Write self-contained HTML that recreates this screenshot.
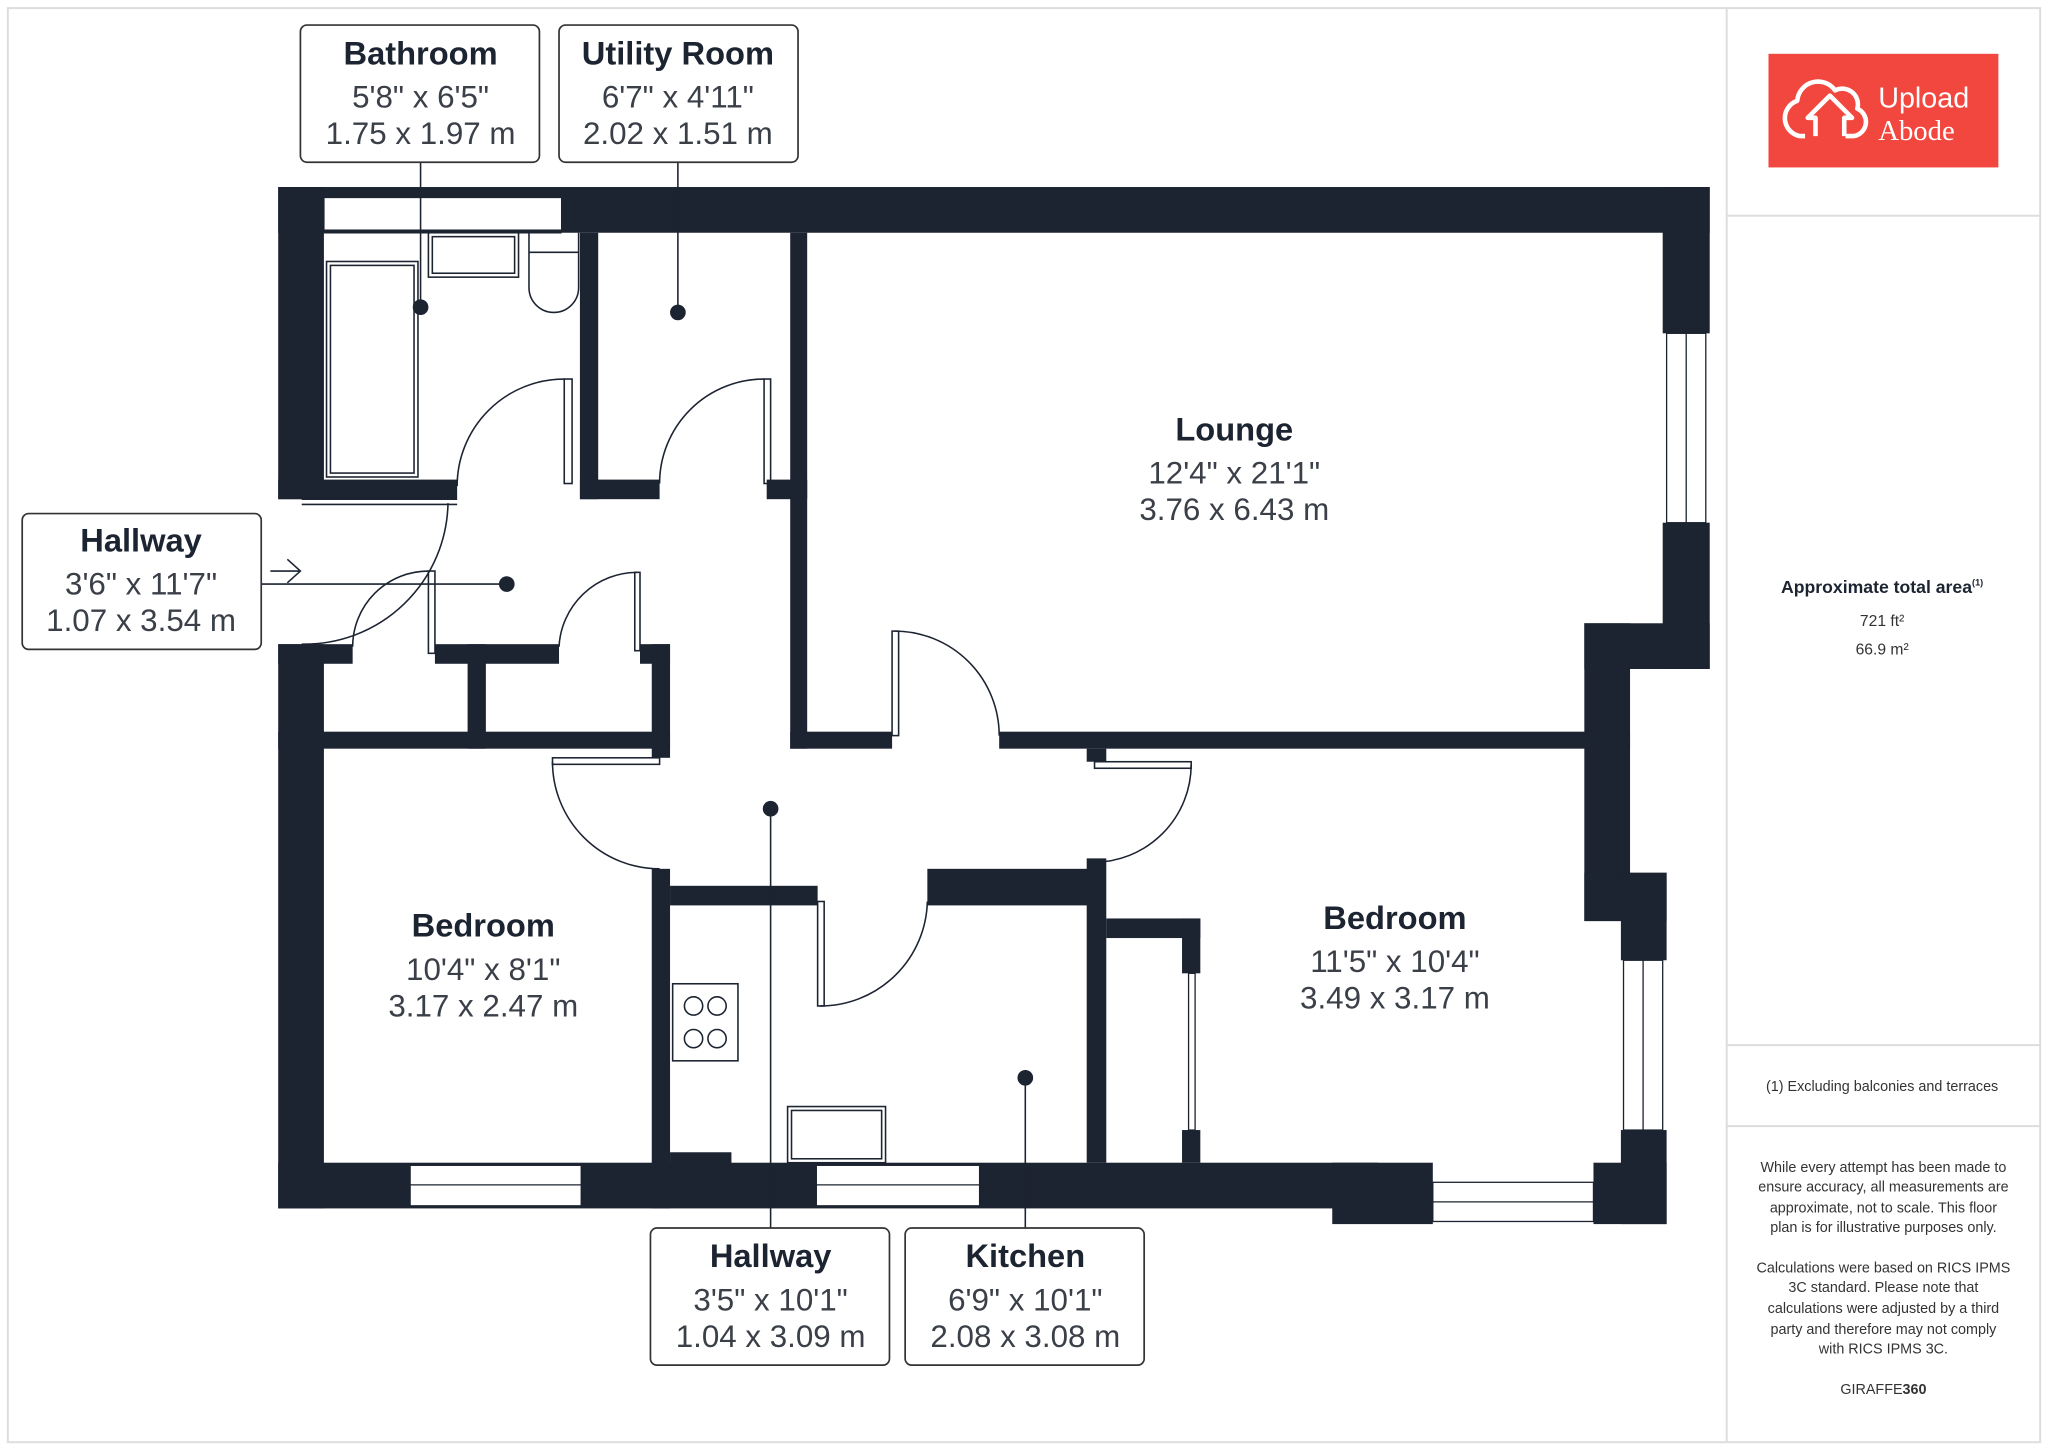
<!DOCTYPE html>
<html><head><meta charset="utf-8"><style>
html,body{margin:0;padding:0;background:#fff}
svg{display:block}
text{font-family:"Liberation Sans",sans-serif;fill:#1c2331}
.n{font-weight:bold;font-size:25px}
.d{font-size:24px;fill:#3a3f48}
.s{font-size:11px;fill:#333}
</style></head><body>
<svg width="2048" height="1449" viewBox="0 0 1568 1109" xmlns="http://www.w3.org/2000/svg">
<rect x="6" y="6" width="1556" height="1098" fill="#fff" stroke="#ddd" stroke-width="1.5"/>
<line x1="1322" y1="6" x2="1322" y2="1104" stroke="#ddd" stroke-width="1.5"/>
<line x1="1322" y1="165" x2="1562" y2="165" stroke="#ddd" stroke-width="1.5"/>
<line x1="1322" y1="800" x2="1562" y2="800" stroke="#ddd" stroke-width="1.5"/>
<line x1="1322" y1="862" x2="1562" y2="862" stroke="#ddd" stroke-width="1.5"/>
<!-- logo -->
<rect x="1354" y="41" width="176" height="87" fill="#f2473f"/>
<path d="M1382 104 h-4 a14 14 0 0 1 -2 -27 a16 16 0 0 1 29 -8 a12 12 0 0 1 17 14 a11 11 0 0 1 -3 21 h-6 M1390 104 v-14 h-6 l17 -17 l17 17 h-6 v14" fill="none" stroke="#fff" stroke-width="3.5" stroke-linejoin="round"/>
<text x="1438" y="82" style="font-size:22px;fill:#fff">Upload</text>
<text x="1438" y="107" style="font-size:22px;fill:#fff;font-family:'Liberation Serif',serif">Abode</text>
<!-- panel text -->
<text x="1441" y="454" text-anchor="middle" style="font-size:13.5px;font-weight:bold">Approximate total area<tspan font-size="7" dy="-6">(1)</tspan></text>
<text x="1441" y="479" text-anchor="middle" class="s" style="font-size:12px">721 ft²</text>
<text x="1441" y="501" text-anchor="middle" class="s" style="font-size:12px">66.9 m²</text>
<text x="1441" y="835" text-anchor="middle" class="s">(1) Excluding balconies and terraces</text>
<g text-anchor="middle" class="s">
<text x="1442" y="897" class="s">While every attempt has been made to</text>
<text x="1442" y="912" class="s">ensure accuracy, all measurements are</text>
<text x="1442" y="928" class="s">approximate, not to scale. This floor</text>
<text x="1442" y="943" class="s">plan is for illustrative purposes only.</text>
<text x="1442" y="974" class="s">Calculations were based on RICS IPMS</text>
<text x="1442" y="989" class="s">3C standard. Please note that</text>
<text x="1442" y="1005" class="s">calculations were adjusted by a third</text>
<text x="1442" y="1021" class="s">party and therefore may not comply</text>
<text x="1442" y="1036" class="s">with RICS IPMS 3C.</text>
<text x="1442" y="1067" class="s">GIRAFFE<tspan font-weight="bold">360</tspan></text>
</g>
<!-- walls -->
<g fill="#1c2331">
<rect x="213" y="143" width="1096" height="35"/>
<rect x="213" y="143" width="35" height="239"/>
<rect x="213" y="367" width="137" height="15"/>
<rect x="444" y="178" width="14" height="204"/>
<rect x="444" y="367" width="61" height="15"/>
<rect x="587" y="367" width="31" height="15"/>
<rect x="605" y="178" width="13" height="395"/>
<rect x="1273" y="143" width="36" height="112"/>
<rect x="1273" y="400" width="36" height="112"/>
<rect x="1213" y="477" width="96" height="35"/>
<rect x="1213" y="477" width="35" height="228"/>
<rect x="1213" y="668" width="63" height="37"/>
<rect x="1241" y="668" width="35" height="67"/>
<rect x="1241" y="865" width="35" height="72"/>
<rect x="605" y="560" width="78" height="13"/>
<rect x="765" y="560" width="483" height="13"/>
<rect x="213" y="890" width="842" height="35"/>
<rect x="1020" y="890" width="77" height="47"/>
<rect x="1220" y="890" width="56" height="47"/>
<rect x="213" y="493" width="35" height="432"/>
<rect x="213" y="493" width="57" height="15"/>
<rect x="333" y="493" width="95" height="15"/>
<rect x="490" y="493" width="23" height="15"/>
<rect x="499" y="493" width="14" height="87"/>
<rect x="358" y="493" width="14" height="80"/>
<rect x="213" y="560" width="300" height="13"/>
<rect x="499" y="665" width="14" height="260"/>
<rect x="513" y="678" width="113" height="15"/>
<rect x="710" y="665" width="125" height="28"/>
<rect x="832" y="657" width="15" height="233"/>
<rect x="832" y="573" width="15" height="10"/>
<rect x="847" y="703" width="72" height="15"/>
<rect x="905" y="703" width="14" height="42"/>
<rect x="905" y="865" width="14" height="25"/>
<rect x="513" y="882" width="47" height="10"/>
</g>
<!-- windows -->
<g fill="#fff" stroke="#1c2331" stroke-width="1">
<rect x="248" y="151" width="182" height="25"/>
<rect x="1276" y="255" width="30" height="145"/><line x1="1291" y1="255" x2="1291" y2="400"/>
<rect x="1243" y="735" width="30" height="130"/><line x1="1258" y1="735" x2="1258" y2="865"/>
<rect x="314" y="892" width="131" height="31"/><line x1="314" y1="907" x2="445" y2="907"/>
<rect x="625" y="892" width="125" height="31"/><line x1="625" y1="907" x2="750" y2="907"/>
<rect x="1097" y="905" width="123" height="30"/><line x1="1097" y1="920" x2="1220" y2="920"/>
<rect x="910" y="745" width="5" height="120"/>
</g>
<!-- fixtures & doors -->
<g fill="none" stroke="#1c2331" stroke-width="1.2">
<rect x="250" y="200" width="70" height="165"/><rect x="253" y="203" width="64" height="159"/>
<rect x="328" y="178" width="69" height="34"/><rect x="331" y="181" width="63" height="28"/>
<path d="M405 178 v42 a19 19 0 0 0 38 0 v-42 M405 193 h38"/>
<line x1="248" y1="178" x2="430" y2="178"/>
<line x1="231" y1="382" x2="350" y2="382"/><line x1="231" y1="386" x2="350" y2="386"/>
<rect x="432" y="290" width="6" height="80"/><path d="M432 290 A82 82 0 0 0 350 372"/>
<rect x="585" y="290" width="5" height="80"/><path d="M585 290 A80 80 0 0 0 505 370"/>
<path d="M343 385 A110 110 0 0 1 231 493"/>
<rect x="328" y="437" width="5" height="63"/><path d="M328 437 A58 58 0 0 0 270 495"/>
<rect x="486" y="438" width="4" height="60"/><path d="M488 438 A60 60 0 0 0 428 495"/>
<rect x="683" y="483" width="5" height="80"/><path d="M685 483 A80 80 0 0 1 765 563"/>
<rect x="423" y="580" width="82" height="5"/><path d="M423 583 A82 82 0 0 0 505 665"/>
<rect x="838" y="583" width="74" height="5"/><path d="M912 585 A75 75 0 0 1 837 660"/>
<rect x="626" y="690" width="5" height="80"/><path d="M628 770 A82 82 0 0 0 710 690"/>
<rect x="515" y="753" width="50" height="59"/>
<circle cx="531" cy="770" r="7"/><circle cx="549" cy="770" r="7"/><circle cx="531" cy="795" r="7"/><circle cx="549" cy="795" r="7"/>
<rect x="603" y="847" width="75" height="43"/><rect x="606" y="850" width="69" height="37"/>
<path d="M207 437 h22 M220 428 l10 9 l-10 9"/>
</g>
<!-- label lines & dots -->
<g stroke="#1c2331" stroke-width="1.2">
<line x1="322" y1="124" x2="322" y2="235"/>
<line x1="519" y1="124" x2="519" y2="239"/>
<line x1="200" y1="447" x2="388" y2="447"/>
<line x1="590" y1="619" x2="590" y2="940"/>
<line x1="785" y1="825" x2="785" y2="940"/>
</g>
<g fill="#1c2331">
<circle cx="322" cy="235" r="6"/><circle cx="519" cy="239" r="6"/><circle cx="388" cy="447" r="6"/>
<circle cx="590" cy="619" r="6"/><circle cx="785" cy="825" r="6"/>
</g>
<!-- label boxes -->
<g fill="#fff" stroke="#333" stroke-width="1.3">
<rect x="230" y="19" width="183" height="105" rx="5"/>
<rect x="428" y="19" width="183" height="105" rx="5"/>
<rect x="17" y="393" width="183" height="104" rx="5"/>
<rect x="498" y="940" width="183" height="105" rx="5"/>
<rect x="693" y="940" width="183" height="105" rx="5"/>
</g>
<g text-anchor="middle">
<text x="322" y="49" class="n">Bathroom</text><text x="322" y="82" class="d">5'8" x 6'5"</text><text x="322" y="110" class="d">1.75 x 1.97 m</text>
<text x="519" y="49" class="n">Utility Room</text><text x="519" y="82" class="d">6'7" x 4'11"</text><text x="519" y="110" class="d">2.02 x 1.51 m</text>
<text x="108" y="422" class="n">Hallway</text><text x="108" y="455" class="d">3'6" x 11'7"</text><text x="108" y="483" class="d">1.07 x 3.54 m</text>
<text x="590" y="970" class="n">Hallway</text><text x="590" y="1003" class="d">3'5" x 10'1"</text><text x="590" y="1031" class="d">1.04 x 3.09 m</text>
<text x="785" y="970" class="n">Kitchen</text><text x="785" y="1003" class="d">6'9" x 10'1"</text><text x="785" y="1031" class="d">2.08 x 3.08 m</text>
<text x="945" y="337" class="n">Lounge</text><text x="945" y="370" class="d">12'4" x 21'1"</text><text x="945" y="398" class="d">3.76 x 6.43 m</text>
<text x="370" y="717" class="n">Bedroom</text><text x="370" y="750" class="d">10'4" x 8'1"</text><text x="370" y="778" class="d">3.17 x 2.47 m</text>
<text x="1068" y="711" class="n">Bedroom</text><text x="1068" y="744" class="d">11'5" x 10'4"</text><text x="1068" y="772" class="d">3.49 x 3.17 m</text>
</g>
</svg>
</body></html>
